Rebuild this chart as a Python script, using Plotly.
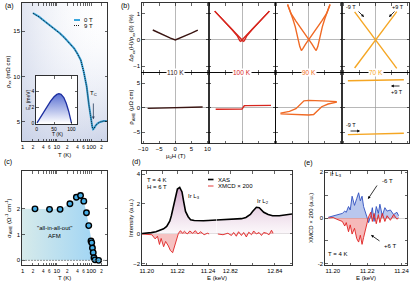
import math
import plotly.graph_objects as go

W, H = 415, 285
FONT = "Liberation Sans, Arial, sans-serif"
FS = 6

# ================= DATA =================
# (a) longitudinal resistivity vs T (mOhm cm)
T_a = [2, 3, 4.4, 6, 8.5, 12, 16.5, 22, 32, 40, 50, 61, 74, 86, 100, 108, 114, 122, 135, 155, 184, 230, 285]
rho_0T = [17.0, 16.6, 16.1, 15.7, 15.3, 14.8, 14.3, 13.8, 13.1, 12.5, 11.8, 10.5, 8.9, 6.9, 5.0, 4.45, 4.2, 4.3, 4.6, 4.85, 5.0, 5.1, 5.1]
rho_9T = [16.97, 16.57, 16.08, 15.68, 15.28, 14.78, 14.28, 13.78, 13.08, 12.48, 11.78, 10.48, 8.88, 6.88, 4.98, 4.43, 4.19, 4.29, 4.59, 4.84, 4.99, 5.09, 5.09]
T_C = 116
# (a) inset: activation energy
T_in = [1, 10, 20, 30, 40, 50, 58, 64, 70, 78, 85, 92, 97, 100]
Ea_in = [0.05, 0.7, 1.4, 2.1, 2.75, 3.3, 3.6, 3.7, 3.6, 3.2, 2.5, 1.5, 0.7, 0.05]

# (b) magnetoresistance (top) and anomalous Hall (bottom)
b_temps = ["110 K", "100 K", "90 K", "70 K"]
b_colors = ["#3a1512", "#d7261e", "#f06a25", "#f5a623"]
mr110_H = [-7, -5, -3, -1.5, 0, 1.5, 3, 5, 7]
mr110 = [0.38, 0.26, 0.15, 0.07, 0.0, 0.07, 0.15, 0.26, 0.38]
mr100_H_dn = [8.5, 6, 3, 1.5, 0.6, 0, -0.4, -0.7, -1.0, -1.5, -3, -6, -8.5]
mr100_H_up = [-8.5, -6, -3, -1.5, -0.6, 0, 0.4, 0.7, 1.0, 1.5, 3, 6, 8.5]
mr100 = [1.1, 0.78, 0.4, 0.2, 0.08, 0.01, -0.05, -0.03, 0.06, 0.16, 0.38, 0.78, 1.1]
mr90_H_dn = [6.6, 5.5, 4, 2, 0, -1, -1.8, -2.3, -2.8, -3.4, -4.2, -5.0, -5.6, -6.6]
mr90_H_up = [-6.6, -5.5, -4, -2, 0, 1, 1.8, 2.3, 2.8, 3.4, 4.2, 5.0, 5.6, 6.6]
mr90 = [1.35, 1.0, 0.72, 0.38, 0.02, -0.16, -0.32, -0.40, -0.25, 0.1, 0.5, 0.82, 1.05, 1.35]
mr70_H = [-6.5, -3, 0, 3, 6.6]
mr70_a = [-1.07, -0.5, 0.0, 0.5, 1.08]
mr70_b = [1.07, 0.5, 0.0, -0.5, -1.08]
ahe110_H = [-8.6, -4, 0, 4, 8.5]
ahe110 = [-0.14, -0.07, 0.0, 0.07, 0.14]
ahe100_H = [-8.2, -4, -1, 0, 0.2, 0.45, 0.7, 1.2, 4, 9]
ahe100 = [-0.33, -0.3, -0.28, -0.27, -0.1, 0.25, 0.4, 0.43, 0.45, 0.48]
ahe90_H_a = [-8.8, -6, -4, -2.5, -1.5, 0, 3, 6, 8.7]
ahe90_a = [-1.1, -0.75, -0.2, 0.7, 1.4, 1.5, 1.45, 1.35, 1.2]
ahe90_H_b = [-8.8, -6, -3, 0, 1.5, 2.5, 4, 6, 8.7]
ahe90_b = [-1.25, -1.35, -1.45, -1.5, -1.4, -0.7, 0.2, 0.75, 1.15]
ahe70_H = [-8.6, 0, 8.8]
ahe70_up = [5.5, 5.6, 5.7]
ahe70_dn = [-5.5, -5.35, -5.2]

# (c) anomalous Hall conductivity vs T
T_sig = [2.3, 6.1, 12.4, 24, 37, 49, 61, 73, 85, 99, 104, 109, 115, 121, 130, 165]
sig = [2.0, 1.98, 1.98, 2.2, 2.45, 2.52, 2.3, 1.85, 1.35, 0.75, 0.68, 0.48, 0.3, 0.1, 0.02, 0.0]

# (d) XAS and XMCD at Ir L3 / L2
E_L3 = [11.197, 11.200, 11.203, 11.206, 11.209, 11.211, 11.213, 11.215, 11.216, 11.217, 11.218, 11.219,
        11.220, 11.2215, 11.223, 11.224, 11.2253, 11.227, 11.2286, 11.231, 11.234, 11.237, 11.240, 11.2425, 11.2455]
xas_L3 = [0.03, 0.05, 0.09, 0.15, 0.24, 0.34, 0.5, 0.85, 1.2, 1.65, 2.2, 2.7,
          3.0, 3.1, 2.8, 2.2, 1.5, 1.15, 0.95, 0.9, 0.88, 0.88, 0.9, 0.92, 0.93]
E_L2 = [12.8138, 12.818, 12.822, 12.825, 12.827, 12.829, 12.830, 12.831, 12.8317, 12.833, 12.834,
        12.835, 12.837, 12.839, 12.842, 12.845, 12.8477]
xas_L2 = [0.93, 0.95, 0.98, 1.02, 1.1, 1.3, 1.5, 1.7, 1.78, 1.75, 1.62, 1.45, 1.3, 1.22, 1.22, 1.28, 1.33]
Em_L3 = [11.1967, 11.2000, 11.2033, 11.2055, 11.2070, 11.2083, 11.2094, 11.2110, 11.2123, 11.2141,
         11.2154, 11.2169, 11.2180, 11.2193, 11.2207, 11.2220, 11.2233, 11.2246, 11.2264, 11.2281,
         11.2299, 11.2317, 11.2334, 11.2352, 11.2374, 11.2396, 11.2407]
xmcd_L3 = [0.0, 0.0, -0.05, -0.33, -0.15, -0.7, -0.3, -0.85, -0.5, -0.8,
           -1.1, -1.25, -0.9, -0.35, 0.05, 0.22, 0.05, 0.18, 0.0, 0.2,
           0.05, 0.22, 0.0, 0.15, -0.05, 0.05, 0.0]
Em_L2 = [12.8144, 12.8167, 12.8189, 12.8205, 12.8215, 12.8227, 12.8237, 12.8250, 12.8260, 12.8272,
         12.8283, 12.8295, 12.8305, 12.8317, 12.8329, 12.8340, 12.8350, 12.8363, 12.8374, 12.8385, 12.8392]
xmcd_L2 = [0.0, -0.05, 0.05, -0.1, 0.1, -0.15, 0.15, -0.1, 0.1, -0.2,
           0.12, -0.05, 0.2, 0.0, 0.1, -0.1, 0.1, 0.05, -0.05, 0.25, 0.05]

# (e) XMCD at +/-6 T
E_e = [11.1973, 11.2002, 11.2021, 11.2040, 11.2055, 11.2069, 11.2078, 11.2091, 11.2101, 11.2112,
       11.2126, 11.2139, 11.2150, 11.2160, 11.2170, 11.2179, 11.2189, 11.2198, 11.2208, 11.2221,
       11.2230, 11.2240, 11.2253, 11.2265, 11.2274, 11.2288, 11.2303, 11.2316, 11.2335, 11.2354,
       11.2373, 11.2383]
xmcd_m6T = [0.03, 0.08, 0.12, 0.15, 0.2, 0.3, 0.25, 0.5, 0.35, 0.95,
            0.55, 0.85, 1.1, 0.75, 0.95, 0.5, 0.3, 0.05, -0.2, 0.1,
            0.45, -0.15, 0.5, 0.2, 0.6, 0.1, 0.45, 0.3, 0.35, 0.15,
            0.25, 0.1]
xmcd_p6T = [0.0, 0.02, -0.05, -0.1, -0.15, -0.35, -0.2, -0.6, -0.3, -0.7,
            -0.45, -0.9, -1.05, -0.75, -1.15, -0.85, -0.55, -0.15, 0.05, 0.25,
            -0.15, 0.2, -0.25, 0.15, -0.2, 0.2, -0.15, 0.1, -0.1, 0.15,
            -0.05, 0.0]

# ================= LAYOUT HELPERS =================
def X(p):
    return p / W


def Y(p):
    return 1 - p / H


layout = dict(width=W, height=H, margin=dict(l=0, r=0, t=0, b=0), paper_bgcolor="white",
              plot_bgcolor="rgba(0,0,0,0)", showlegend=False,
              font=dict(family=FONT, size=FS, color="black"))
annotations = []
shapes = []
traces = []


def base_axis(**kw):
    d = dict(showline=True, linecolor="black", linewidth=0.8, mirror="ticks", ticks="inside",
             ticklen=2.5, tickwidth=0.6, tickcolor="black", showgrid=False, zeroline=False,
             automargin=False, tickangle=0, tickfont=dict(size=FS, family=FONT, color="black"))
    d.update(kw)
    return d


def add_axes(n, xpx, ypx, xkw, ykw):
    s = "" if n == 1 else str(n)
    layout["xaxis" + s] = base_axis(domain=[X(xpx[0]), X(xpx[1])], anchor="y" + s, **xkw)
    layout["yaxis" + s] = base_axis(domain=[Y(ypx[1]), Y(ypx[0])], anchor="x" + s, **ykw)
    return "x" + s, "y" + s


def line(xa, ya, x, y, color, width=1.2, dash=None, **kw):
    traces.append(go.Scatter(x=x, y=y, xaxis=xa, yaxis=ya, mode="lines",
                             line=dict(color=color, width=width, dash=dash), hoverinfo="skip", **kw))


def text(t, x, y, size=FS, color="black", xanchor="center", yanchor="middle", angle=0, **kw):
    annotations.append(dict(text=t, x=X(x), y=Y(y), xref="paper", yref="paper", showarrow=False,
                            font=dict(size=size, color=color, family=FONT), xanchor=xanchor,
                            yanchor=yanchor, textangle=angle, **kw))


def arrow(xh, yh, ax, ay):
    annotations.append(dict(text="", x=X(xh), y=Y(yh), xref="paper", yref="paper", showarrow=True,
                            ax=ax, ay=ay, arrowhead=2, arrowsize=0.7, arrowwidth=0.8, arrowcolor="black"))


def sm(s):
    return '<span style="font-size:4.5px">%s</span>' % s


log_vals = [1, 2, 3, 4, 5, 6, 7, 8, 9, 10, 20, 30, 40, 50, 60, 70, 80, 90, 100, 200]
log_text = ["1", sm("2"), " ", sm("4"), " ", sm("6"), " ", " ", " ", "10", sm("2"), " ", sm("4"), " ", sm("6"),
            " ", " ", " ", "100", sm("2")]
xr_log = [math.log10(0.96), math.log10(290)]

# ================= (a) =================
yr_a = [2.9, 18.1]
xa, ya = add_axes(1, (22, 107), (3, 141),
                  dict(type="log", range=xr_log, tickvals=log_vals, ticktext=log_text),
                  dict(range=yr_a, tickvals=[5, 10, 15]))
bx = [10 ** xr_log[0], 10 ** xr_log[1], 10 ** xr_log[1], 10 ** xr_log[0]]
by = [yr_a[0], yr_a[0], yr_a[1], yr_a[1]]
traces.append(go.Scatter(x=bx, y=by, xaxis=xa, yaxis=ya, mode="lines", line=dict(width=0), fill="toself",
                         fillgradient=dict(type="vertical", colorscale=[[0, "rgba(195,204,228,0.85)"], [0.55, "rgba(232,236,246,0.45)"], [1, "rgba(255,255,255,0)"]]),
                         hoverinfo="skip"))
traces.append(go.Scatter(x=bx, y=by, xaxis=xa, yaxis=ya, mode="lines", line=dict(width=0), fill="toself",
                         fillgradient=dict(type="horizontal", colorscale=[[0, "rgba(200,208,230,0.55)"], [1, "rgba(255,255,255,0)"]]),
                         hoverinfo="skip"))
line(xa, ya, T_a, rho_0T, "#3aa6dd", 2.0)
line(xa, ya, T_a, rho_9T, "black", 0.9, dash="1px,1px")
annotations.append(dict(text="", x=math.log10(T_C), y=5.3, ax=math.log10(T_C), ay=7.2, xref=xa, yref=ya,
                        axref=xa, ayref=ya, showarrow=True, arrowhead=2, arrowsize=0.7, arrowwidth=0.8))
annotations.append(dict(text="T<sub>C</sub>", x=math.log10(T_C), y=8.1, xref=xa, yref=ya, showarrow=False,
                        font=dict(size=FS, family=FONT)))
# legend (a)
shapes.append(dict(type="line", xref="paper", yref="paper", x0=X(74), x1=X(80), y0=Y(20), y1=Y(20),
                   line=dict(color="#3aa6dd", width=2)))
shapes.append(dict(type="line", xref="paper", yref="paper", x0=X(74), x1=X(80), y0=Y(25.5), y1=Y(25.5),
                   line=dict(color="black", width=0.9, dash="1px,1px")))
text("0 T", 82, 20, xanchor="left")
text("9 T", 82, 25.5, xanchor="left")
text("(a)", 9, 6, size=7)
text("ρ<sub>xx</sub> (mΩ cm)", 8, 72, angle=-90)
text("T (K)", 64, 155)

# inset
xr_in = [-2, 116]
yr_in = [-0.1, 5.9]
xi, yi = add_axes(2, (36, 77), (76, 124),
                  dict(range=xr_in, tickvals=[0, 50, 100], tickfont=dict(size=5, family=FONT)),
                  dict(range=yr_in, tickvals=[0, 2, 4], tickfont=dict(size=5, family=FONT)))
traces.append(go.Scatter(x=[xr_in[0], xr_in[1], xr_in[1], xr_in[0]], y=[yr_in[0], yr_in[0], yr_in[1], yr_in[1]],
                         xaxis=xi, yaxis=yi, mode="lines", line=dict(width=0), fill="toself",
                         fillcolor="white", hoverinfo="skip"))
traces.append(go.Scatter(x=T_in, y=Ea_in, xaxis=xi, yaxis=yi, mode="lines", line=dict(color="#1c2ea0", width=1.3),
                         fill="tozeroy",
                         fillgradient=dict(type="vertical", colorscale=[[0, "rgba(255,255,255,0.9)"], [1, "rgba(70,95,205,0.9)"]]),
                         hoverinfo="skip"))
text("E<sub>a</sub> (meV)", 28, 100, size=5, angle=-90)
text("T (K)", 57, 134, size=5)

# ================= (b) =================
cols = [142, 208.75, 275.5, 342.25, 409]
rows = [(3, 72.5), (72.5, 143)]
yr_top = [-1.24, 1.41]
yr_bot = [-7.2, 7.18]
xr_b = [-10.35, 10.4]
top_data = [
    [(mr110_H, mr110)],
    [(mr100_H_dn, mr100), (mr100_H_up, mr100)],
    [(mr90_H_dn, mr90), (mr90_H_up, mr90)],
    [(mr70_H, mr70_a), (mr70_H, mr70_b)],
]
bot_data = [
    [(ahe110_H, ahe110)],
    [(ahe100_H, ahe100)],
    [(ahe90_H_a, ahe90_a), (ahe90_H_b, ahe90_b)],
    [(ahe70_H, ahe70_up), (ahe70_H, ahe70_dn)],
]
n = 3
for r, (rdata, yr, yt) in enumerate([(top_data, yr_top, [-1, 0, 1]), (bot_data, yr_bot, [-5, 0, 5])]):
    for c in range(4):
        xkw = dict(range=xr_b, tickvals=[-10, -5, 0, 5, 10], showticklabels=(r == 1 and c == 0),
                   zeroline=True, zerolinecolor="#9a9a9a", zerolinewidth=0.7)
        ykw = dict(range=yr, tickvals=yt, showticklabels=(c == 0),
                   zeroline=True, zerolinecolor="#9a9a9a", zerolinewidth=0.7)
        xb, yb = add_axes(n, (cols[c], cols[c + 1]), rows[r], xkw, ykw)
        for hx, vy in rdata[c]:
            line(xb, yb, hx, vy, b_colors[c], 1.4)
        n += 1
for c in range(4):
    text(b_temps[c], (cols[c] + cols[c + 1]) / 2, 72.5, size=6.5, color=b_colors[c], bgcolor="white", borderpad=0)
text("(b)", 125, 6, size=7)
text("Δρ<sub>xx</sub>(H)/ρ<sub>xx</sub>(0) (%)", 132, 37.75, angle=-90)
text("ρ<sub>AHE</sub> (μΩ cm)", 132, 107.75, angle=-90)
text("μ<sub>0</sub>H (T)", 175, 156)
# 70 K annotations
text("-9 T", 351, 7.5, size=5.5)
arrow(364, 17, -7, -7)
text("+9 T", 406, 7.5, size=5.5, xanchor="right")
arrow(389, 17, 7, -7)
arrow(391, 86, 10, 0)
text("+9 T", 405, 91.5, size=5.5, xanchor="right")
text("-9 T", 351, 125, size=5.5)
arrow(360, 131, -11, 0)

# ================= (c) =================
yr_c = [-0.18, 3.47]
xc, yc = add_axes(11, (22, 107), (171, 265),
                  dict(type="log", range=xr_log, tickvals=log_vals, ticktext=log_text),
                  dict(range=yr_c, tickvals=[0, 1, 2]))
traces.append(go.Scatter(x=[10 ** xr_log[0]] + T_sig, y=[sig[0]] + sig, xaxis=xc, yaxis=yc, mode="lines",
                         line=dict(width=0), fill="tozeroy",
                         fillgradient=dict(type="horizontal", colorscale=[[0, "#d6eaea"], [1, "#9ed4f5"]]),
                         hoverinfo="skip"))
shapes.append(dict(type="line", xref="x11 domain", yref="y11", x0=0, x1=1, y0=0, y1=0,
                   line=dict(color="#666", width=0.7, dash="2px,1px")))
traces.append(go.Scatter(x=T_sig, y=sig, xaxis=xc, yaxis=yc, mode="markers",
                         marker=dict(size=5.5, color="#45ade6", line=dict(color="black", width=1.4)),
                         hoverinfo="skip"))
text("(c)", 8, 162, size=7)
text('"all-in-all-out"', 54, 228)
text("AFM", 54, 236)
text("σ<sub>AHE</sub> (Ω<sup>-1</sup> cm<sup>-1</sup>)", 8, 218, angle=-90)
text("T (K)", 64, 277.5)

# ================= (d) =================
yr_d = [-2.07, 4.2]
xdl, ydl = add_axes(12, (142, 216.5), (171, 265),
                    dict(range=[11.1969, 11.2455], tickvals=[11.20, 11.21, 11.22, 11.23, 11.24],
                         ticktext=["11.20", " ", "11.22", " ", "11.24"]),
                    dict(range=yr_d, tickvals=[-2, 0, 2, 4], mirror=False,
                         zeroline=True, zerolinecolor="#bbbbbb", zerolinewidth=0.6))
xdr, ydr = add_axes(13, (216.5, 292), (171, 265),
                    dict(range=[12.8138, 12.8477], tickvals=[12.82, 12.83, 12.84],
                         ticktext=["12.82", " ", "12.84"]),
                    dict(range=yr_d, tickvals=[-2, 0, 2, 4], mirror=False, side="right", showticklabels=False,
                         zeroline=True, zerolinecolor="#bbbbbb", zerolinewidth=0.6))
xas_grad = dict(type="vertical", start=0, stop=3.1,
                colorscale=[[0, "rgba(246,236,243,0.4)"], [1, "rgba(195,140,185,0.8)"]])
for xa_, ya_, e_, v_ in [(xdl, ydl, E_L3, xas_L3), (xdr, ydr, E_L2, xas_L2)]:
    traces.append(go.Scatter(x=e_, y=v_, xaxis=xa_, yaxis=ya_, mode="lines", line=dict(width=0),
                             fill="tozeroy", fillgradient=xas_grad, hoverinfo="skip"))
for xa_, ya_, e_, v_ in [(xdl, ydl, Em_L3, xmcd_L3), (xdr, ydr, Em_L2, xmcd_L2)]:
    line(xa_, ya_, e_, v_, "#e02424", 0.9, fill="tozeroy", fillcolor="rgba(235,120,120,0.45)")
line(xdl, ydl, E_L3, xas_L3, "black", 1.6)
line(xdr, ydr, E_L2, xas_L2, "black", 1.6)
text("(d)", 136, 162, size=7)
text("T = 4 K", 145, 179.5, xanchor="left")
text("H = 6 T", 145, 186.5, xanchor="left")
shapes.append(dict(type="line", xref="paper", yref="paper", x0=X(208), x1=X(213.5), y0=Y(179.5), y1=Y(179.5),
                   line=dict(color="black", width=1.6)))
shapes.append(dict(type="line", xref="paper", yref="paper", x0=X(208), x1=X(213.5), y0=Y(186), y1=Y(186),
                   line=dict(color="#e02424", width=0.9)))
text("XAS", 216, 179.5, xanchor="left")
text("XMCD × 200", 216, 186, xanchor="left")
text("Ir L<sub>3</sub>", 186, 196, xanchor="left")
text("Ir L<sub>2</sub>", 255, 201, xanchor="left")
text("Intensity (a.u.)", 131, 218, angle=-90)
text("E (keV)", 217, 277.5)

# ================= (e) =================
xe, ye = add_axes(14, (325, 407), (171, 265),
                  dict(range=[11.1954, 11.2432], tickvals=[11.20, 11.21, 11.22, 11.23, 11.24],
                       ticktext=["11.20", " ", "11.22", " ", "11.24"]),
                  dict(range=[-2.05, 2.05], tickvals=[-2, -1, 0, 1, 2], ticktext=["-2", " ", "0", " ", "2"],
                       zeroline=True, zerolinecolor="#bbbbbb", zerolinewidth=0.6))
line(xe, ye, E_e, xmcd_m6T, "#2f4fc0", 0.9, fill="tozeroy", fillcolor="rgba(100,130,215,0.45)")
line(xe, ye, E_e, xmcd_p6T, "#e02020", 0.9, fill="tozeroy", fillcolor="rgba(235,100,100,0.45)")
text("(e)", 308, 163, size=7)
text("Ir L<sub>3</sub>", 328, 174, xanchor="left")
text("-6 T", 380, 180.5, xanchor="left")
arrow(368, 199, 10, -15)
text("+6 T", 382, 246, xanchor="left")
arrow(371, 235, 10, 7)
text("T = 4 K", 326, 254, xanchor="left")
text("XMCD × 200 (a.u.)", 311, 218, angle=-90)
text("E (keV)", 366, 277.5)

layout["annotations"] = annotations
layout["shapes"] = shapes
fig = go.Figure(data=traces, layout=layout)
fig.write_html("out.html", config={"displayModeBar": False, "staticPlot": True},
               post_script="document.body.style.margin='0px';document.body.style.padding='0px';")
